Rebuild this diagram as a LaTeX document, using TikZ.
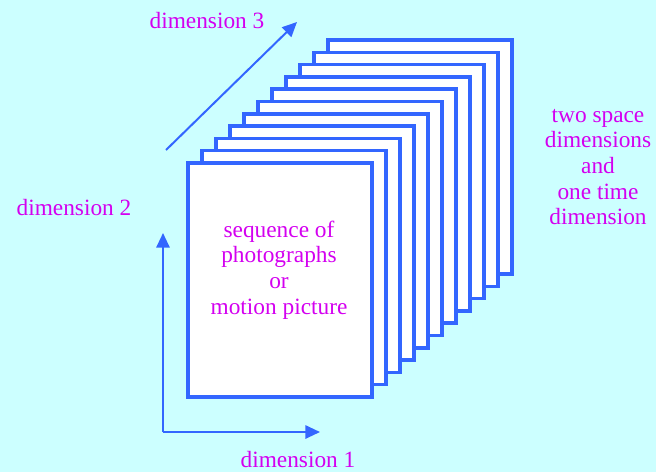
\documentclass[tikz,border=0pt]{standalone}
\usepackage{fontspec}
\setmainfont{Liberation Serif}
\usetikzlibrary{arrows.meta}
\definecolor{sky}{RGB}{204,255,255}
\definecolor{edge}{RGB}{51,102,255}
\definecolor{ink}{RGB}{212,0,240}
\tikzset{
    photo/.style={rectangle, draw=edge, line width=2.6pt, fill=white, minimum width=138pt, minimum height=175.5pt, inner sep=0pt, outer sep=0pt, anchor=north west},
    lbl/.style={text=ink, align=center, font=\fontsize{17.5}{19.2}\selectfont, inner sep=0pt},
    arr/.style={-{Triangle[length=11pt, width=10pt]}, line width=1.5pt, edge}
}
\begin{document}
\begin{tikzpicture}[x=0.75pt, y=-0.75pt]
    \fill[sky] (0,0) rectangle (656,472);
    % stack of frames, back to front
    \foreach \i in {10,9,...,0}
        \node[photo] (f\i) at ({188+14*\i},{163-12.3*\i}) {};
    \node[lbl] (seq) at (279,270) {sequence of\\photographs\\or\\motion picture};
    \node[lbl] (tsd) at (598,167) {two space\\dimensions\\and\\one time\\dimension};
    \node[lbl, anchor=base] (d3) at (207,28) {dimension 3};
    \node[lbl, anchor=base] (d2) at (74,215) {dimension 2};
    \node[lbl, anchor=base] (d1) at (298,467) {dimension 1};

    \coordinate (o) at (163,432);
    \coordinate (e1) at (320,432);
    \coordinate (e2) at (163,233);
    \coordinate (s3) at (166,150);
    \coordinate (e3) at (297,22);
    \draw[arr] (o)--(e1);
    \draw[arr] (o)--(e2);
    \draw[arr] (s3)--(e3);
\end{tikzpicture}
\end{document}
